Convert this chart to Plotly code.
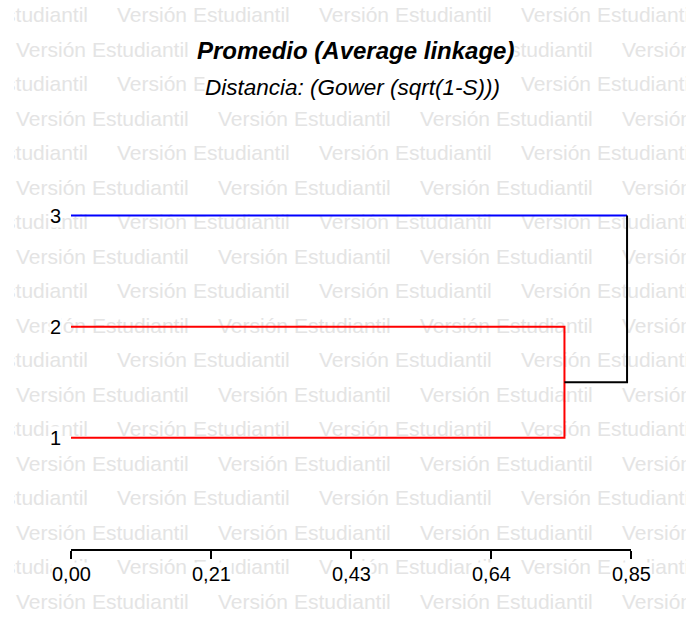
import plotly.graph_objects as go

# ---- dendrogram data (average linkage, Gower distance sqrt(1-S)) ----
leaf_labels = ["1", "2", "3"]
leaf_pos = [1, 2, 3]
join_12 = 0.749      # distance at which leaves 1 and 2 merge
join_all = 0.844     # distance at which cluster {1,2} merges with 3
x_max = 0.85
tick_vals = [0.0, 0.2125, 0.425, 0.6375, 0.85]
tick_text = ["0,00", "0,21", "0,43", "0,64", "0,85"]

title_text = "Promedio (Average linkage)"
subtitle_text = "Distancia: (Gower (sqrt(1-S)))"
watermark = "Versión Estudiantil"

# ---- page geometry (pixels) ----
W, H = 686, 618
PL, PR, PT, PB = 71, 631, 160, 549   # plotting box of the dendrogram
Y_TOP = 3.5
FONT = "Liberation Sans, Arial, sans-serif"
WM_LEFT = 14     # watermark band starts here
WM_WIDTH = 173   # rendered width of one watermark phrase

# tiled background watermark on a page-sized pixel axis (drawn first)
wm_x, wm_y, wm_pos = [], [], []
for k in range(19):
    py = 17 + 34.5 * k
    start = 117 - 202 if k % 2 == 0 else 16
    for j in range(5):
        sx = start + 202 * j
        if sx > W:
            continue
        if sx >= WM_LEFT:
            wm_x.append(sx)
            wm_pos.append("middle right")
        else:
            wm_x.append(sx + WM_WIDTH)
            wm_pos.append("middle left")
        wm_y.append(py)

fig = go.Figure()
fig.add_trace(go.Scatter(
    x=wm_x, y=wm_y, mode="text", text=[watermark] * len(wm_x),
    textposition=wm_pos,
    textfont=dict(family=FONT, size=21, color="#e4e4e4"),
    cliponaxis=True, hoverinfo="skip", showlegend=False,
    xaxis="x", yaxis="y",
))

# cluster {1,2}: red
fig.add_trace(go.Scatter(
    x=[0, join_12, join_12, 0],
    y=[leaf_pos[1], leaf_pos[1], leaf_pos[0], leaf_pos[0]],
    mode="lines", line=dict(color="#ff0000", width=2),
    showlegend=False, hoverinfo="skip", xaxis="x2", yaxis="y2",
))
# leaf 3: blue
fig.add_trace(go.Scatter(
    x=[0, join_all], y=[leaf_pos[2], leaf_pos[2]],
    mode="lines", line=dict(color="#0000ff", width=2),
    showlegend=False, hoverinfo="skip", xaxis="x2", yaxis="y2",
))
# final merge: black
mid_12 = (leaf_pos[0] + leaf_pos[1]) / 2
fig.add_trace(go.Scatter(
    x=[join_12, join_all, join_all], y=[mid_12, mid_12, leaf_pos[2]],
    mode="lines", line=dict(color="#000000", width=2),
    showlegend=False, hoverinfo="skip", xaxis="x2", yaxis="y2",
))

annotations = []
# distance axis tick labels
for v, t in zip(tick_vals, tick_text):
    annotations.append(dict(
        x=v, xref="x2", y=1 - PB / H, yref="paper", yshift=-25,
        text=t, showarrow=False, xanchor="center", yanchor="middle",
        bgcolor="white", borderpad=0,
        font=dict(family=FONT, size=20, color="black"),
    ))
# leaf labels
for p, lab in zip(leaf_pos, leaf_labels):
    annotations.append(dict(
        x=PL / W, xref="paper", xshift=-9, y=p, yref="y2",
        text=lab, showarrow=False, xanchor="right", yanchor="middle",
        bgcolor="white", borderpad=0,
        font=dict(family=FONT, size=20, color="black"),
    ))
# titles
annotations.append(dict(
    x=355 / W, xref="paper", y=1 - 50 / H, yref="paper",
    text=title_text, showarrow=False, xanchor="center", yanchor="middle",
    bgcolor="white", borderpad=0,
    font=dict(family=FONT, size=24, color="black", weight="bold", style="italic"),
))
annotations.append(dict(
    x=352 / W, xref="paper", y=1 - 88 / H, yref="paper",
    text=subtitle_text, showarrow=False, xanchor="center", yanchor="middle",
    bgcolor="white", borderpad=0,
    font=dict(family=FONT, size=22.5, color="black", style="italic"),
))

fig.update_layout(
    width=W, height=H,
    margin=dict(l=0, r=0, t=0, b=0, pad=0),
    paper_bgcolor="white", plot_bgcolor="rgba(0,0,0,0)",
    annotations=annotations,
    xaxis=dict(domain=[WM_LEFT / W, 1], range=[WM_LEFT, W], visible=False,
               fixedrange=True),
    yaxis=dict(domain=[0, 1], range=[H, 0], visible=False, fixedrange=True),
    xaxis2=dict(
        domain=[PL / W, PR / W], anchor="y2",
        range=[0, x_max], tickvals=tick_vals, showticklabels=False,
        showline=True, linecolor="black", linewidth=2,
        ticks="outside", ticklen=8, tickwidth=2, tickcolor="black",
        showgrid=False, zeroline=False, fixedrange=True,
    ),
    yaxis2=dict(
        domain=[1 - PB / H, 1 - PT / H], anchor="x2",
        range=[0, Y_TOP], visible=False, showgrid=False, zeroline=False,
        fixedrange=True,
    ),
)

fig.write_html("out.html")
